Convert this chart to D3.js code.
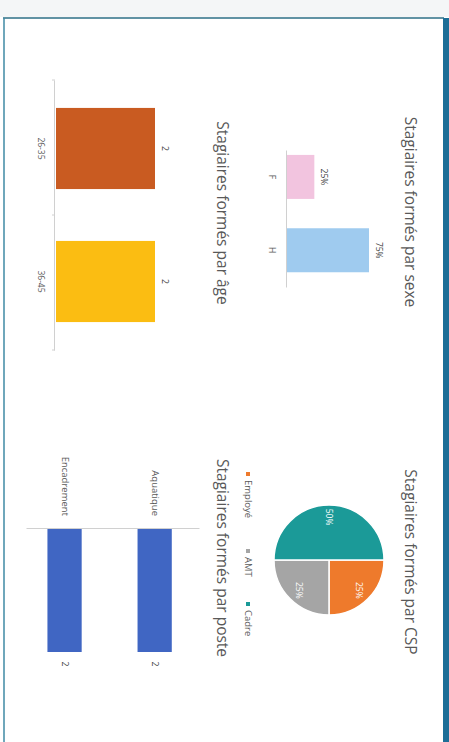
<!DOCTYPE html>
<html>
<head>
<meta charset="utf-8">
<script src="https://cdn.jsdelivr.net/npm/d3@7"></script>
<style>
  html, body { margin: 0; padding: 0; background: #ffffff; }
  svg { display: block; font-family: "Open Sans", "Noto Sans", sans-serif; }
</style>
</head>
<body>
<svg id="chart" width="449" height="742"></svg>
<script>
// ---- Data ----
const sexeCategories = ["F", "H"];
const sexeValues = [25, 75];
const sexeLabels = ["25%", "75%"];
const sexeColors = ["#f2c4df", "#9fcbef"];

const ageCategories = ["26-35", "36-45"];
const ageValues = [2, 2];
const ageColors = ["#c95b21", "#fbbd12"];

const cspCategories = ["Employé", "AMT", "Cadre"];
const cspValues = [25, 25, 50];
const cspColors = ["#ee7a2c", "#a5a5a5", "#1b9a98"];

const posteCategories = ["Aquatique", "Encadrement"];
const posteValues = [2, 2];
const posteColor = "#4066c3";

const titles = ["Stagiaires formés par sexe", "Stagiaires formés par âge",
                "Stagiaires formés par CSP", "Stagiaires formés par poste"];

const W = 449, H = 742;
const svg = d3.select("#chart");

// page frame (screen coordinates)
svg.append("rect").attr("x", 0).attr("y", 0).attr("width", W).attr("height", 17).attr("fill", "#f4f6f7");
svg.append("rect").attr("x", 0).attr("y", 17).attr("width", W).attr("height", H - 17).attr("fill", "#ffffff");
svg.append("line").attr("x1", 3).attr("x2", 444).attr("y1", 18).attr("y2", 18)
   .attr("stroke", "#2c6f86").attr("stroke-width", 1.5);
svg.append("line").attr("x1", 4).attr("x2", 4).attr("y1", 18).attr("y2", H)
   .attr("stroke", "#3f8aa5").attr("stroke-width", 1.5);
svg.append("rect").attr("x", 443).attr("y", 18).attr("width", 6).attr("height", H - 18).attr("fill", "#1d6e97");

// rotated landscape group: x' along screen-down, y' from screen-right to left
const g = svg.append("g").attr("transform", `translate(${W},0) rotate(90)`);

const titleColor = "#595959";
const tickColor = "#595959";
function title(text, x, y) {
  g.append("text").attr("x", x).attr("y", y).attr("dy", "0.35em")
   .attr("text-anchor", "middle").attr("font-size", 15.5).attr("fill", titleColor).text(text);
}

// ---------- Sexe chart ----------
{
  const x = d3.scaleBand().domain(sexeCategories).range([150, 287]).paddingInner(0.4).paddingOuter(0.134).align(0.25);
  const y = d3.scaleLinear().domain([0, 75]).range([162, 80]);
  title(titles[0], 212, 39);
  g.append("g").selectAll("rect").data(sexeValues).join("rect")
    .attr("x", (d, i) => x(sexeCategories[i])).attr("width", x.bandwidth())
    .attr("y", d => y(d)).attr("height", d => y(0) - y(d))
    .attr("fill", (d, i) => sexeColors[i]);
  const ax = g.append("g").attr("transform", `translate(0,${y(0)})`)
    .call(d3.axisBottom(x).tickSize(0).tickPadding(12));
  ax.select(".domain").attr("stroke", "#d0d0d0");
  ax.selectAll("text").attr("font-size", 8.5).attr("fill", tickColor).attr("font-family", "Open Sans");
  g.append("g").selectAll("text").data(sexeValues).join("text")
    .attr("x", (d, i) => x(sexeCategories[i]) + x.bandwidth() / 2)
    .attr("y", d => y(d) - 10).attr("dy", "0.35em").attr("text-anchor", "middle")
    .attr("font-size", 8.5).attr("fill", "#404040").text((d, i) => sexeLabels[i]);
}

// ---------- Age chart ----------
{
  const x = d3.scaleBand().domain(ageCategories).range([80, 350]).paddingInner(0.39).paddingOuter(0.21);
  const y = d3.scaleLinear().domain([0, 2]).range([393, 294]);
  title(titles[1], 213, 227);
  g.append("g").selectAll("rect").data(ageValues).join("rect")
    .attr("x", (d, i) => x(ageCategories[i])).attr("width", x.bandwidth())
    .attr("y", d => y(d)).attr("height", d => y(0) - y(d))
    .attr("fill", (d, i) => ageColors[i]);
  const ax = g.append("g").attr("transform", `translate(0,${y(0) + 1})`)
    .call(d3.axisBottom(x).tickSize(0).tickPadding(11));
  ax.select(".domain").attr("stroke", "#d0d0d0");
  ax.selectAll("text").attr("font-size", 8.5).attr("fill", tickColor).attr("font-family", "Open Sans");
  // category separators
  const bounds = [80, (x(ageCategories[0]) + x.bandwidth() + x(ageCategories[1])) / 2, 350];
  g.append("g").selectAll("line").data(bounds).join("line")
    .attr("x1", d => d).attr("x2", d => d).attr("y1", y(0) + 1).attr("y2", y(0) + 4)
    .attr("stroke", "#d0d0d0");
  g.append("g").selectAll("text").data(ageValues).join("text")
    .attr("x", (d, i) => x(ageCategories[i]) + x.bandwidth() / 2)
    .attr("y", d => y(d) - 10).attr("dy", "0.35em").attr("text-anchor", "middle")
    .attr("font-size", 8.5).attr("fill", "#404040").text(d => d);
}

// ---------- CSP pie ----------
{
  title(titles[2], 562, 39);
  const cx = 560, cy = 120, r = 55;
  const pie = d3.pie().sort(null).value(d => d)(cspValues);
  const arc = d3.arc().innerRadius(0).outerRadius(r);
  const labelArc = d3.arc().innerRadius(r * 0.78).outerRadius(r * 0.78);
  const pg = g.append("g").attr("transform", `translate(${cx},${cy})`);
  pg.selectAll("path").data(pie).join("path")
    .attr("d", arc).attr("fill", (d, i) => cspColors[i])
    .attr("stroke", "#ffffff").attr("stroke-width", 1.5);
  const total = d3.sum(cspValues);
  pg.selectAll("text").data(pie).join("text")
    .attr("transform", d => `translate(${labelArc.centroid(d)})`)
    .attr("dy", "0.35em").attr("text-anchor", "middle")
    .attr("font-size", 8.5).attr("fill", "#ffffff")
    .text(d => Math.round(d.data / total * 100) + "%");
  // legend
  const legX = [474, 551, 604];
  const lg = g.append("g").selectAll("g").data(cspCategories).join("g")
    .attr("transform", (d, i) => `translate(${legX[i]},201)`);
  lg.append("rect").attr("x", -2).attr("y", -2).attr("width", 4).attr("height", 4)
    .attr("fill", (d, i) => cspColors[i]);
  lg.append("text").attr("x", 6).attr("dy", "0.35em").attr("font-size", 9.5)
    .attr("fill", "#595959").text(d => d);
}

// ---------- Poste chart (horizontal bars) ----------
{
  title(titles[3], 558, 227);
  const y = d3.scaleBand().domain(posteCategories).range([249, 422]).paddingInner(0.62).paddingOuter(0.27).align(0.58);
  const x = d3.scaleLinear().domain([0, 2]).range([528, 652]);
  g.append("g").selectAll("rect").data(posteValues).join("rect")
    .attr("y", (d, i) => y(posteCategories[i])).attr("height", y.bandwidth())
    .attr("x", x(0)).attr("width", d => x(d) - x(0))
    .attr("fill", posteColor);
  const ax = g.append("g").attr("transform", `translate(${x(0)},0)`)
    .call(d3.axisLeft(y).tickSize(0).tickPadding(12));
  ax.select(".domain").attr("stroke", "#d0d0d0");
  ax.selectAll("text").attr("font-size", 9.5).attr("fill", tickColor).attr("font-family", "Open Sans");
  g.append("g").selectAll("text").data(posteValues).join("text")
    .attr("y", (d, i) => y(posteCategories[i]) + y.bandwidth() / 2)
    .attr("x", d => x(d) + 12).attr("dy", "0.35em").attr("text-anchor", "middle")
    .attr("font-size", 8.5).attr("fill", "#404040").text(d => d);
}
</script>
</body>
</html>
